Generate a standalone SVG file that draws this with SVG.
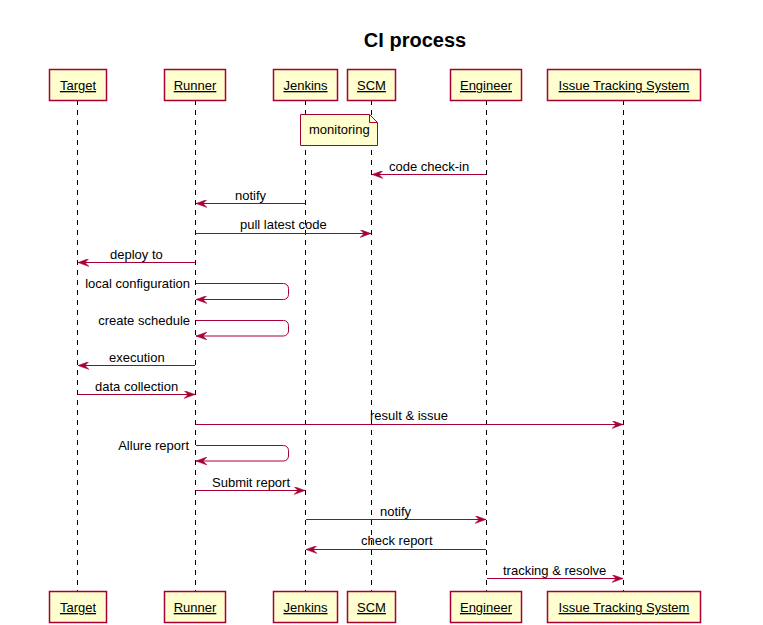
<svg xmlns="http://www.w3.org/2000/svg" width="763" height="625" viewBox="0 0 763 625">
<defs>
<style>
text{font-family:"Liberation Sans",Arial,sans-serif;font-size:13px;fill:#000}
.title{font-size:20px;font-weight:bold}
.p rect{fill:#FEFECE;stroke:#A80036;stroke-width:1.5}
.p text{text-decoration:underline;text-anchor:middle}
.life{stroke:#000;stroke-width:1;stroke-dasharray:5,5}
.msg{stroke:#A80036;stroke-width:1;fill:none}
.r{text-anchor:end}
</style>
<marker id="ah" viewBox="0 0 11 8" refX="11" refY="4" markerWidth="11" markerHeight="8" markerUnits="userSpaceOnUse" orient="auto">
<polygon points="0,0 11,4 0,8 4,4" fill="#A80036" stroke="#A80036" stroke-width="0.5"/>
</marker>
</defs>
<rect width="763" height="625" fill="#fff"/>
<text class="title" x="415" y="47" text-anchor="middle">CI process</text>
<g id="lifelines">
<line class="life" x1="77.5" y1="100" x2="77.5" y2="591"/>
<line class="life" x1="195.5" y1="100" x2="195.5" y2="591"/>
<line class="life" x1="305.5" y1="100" x2="305.5" y2="591"/>
<line class="life" x1="371.5" y1="100" x2="371.5" y2="591"/>
<line class="life" x1="486.5" y1="100" x2="486.5" y2="591"/>
<line class="life" x1="623.5" y1="100" x2="623.5" y2="591"/>
</g>
<g id="target" class="p">
<rect x="49.5" y="69.5" width="57" height="31"/><text x="78" y="90">Target</text>
<rect x="49.5" y="591.5" width="57" height="31"/><text x="78" y="612">Target</text>
</g>
<g id="runner" class="p">
<rect x="164.5" y="69.5" width="61" height="31"/><text x="195" y="90">Runner</text>
<rect x="164.5" y="591.5" width="61" height="31"/><text x="195" y="612">Runner</text>
</g>
<g id="jenkins" class="p">
<rect x="273.5" y="69.5" width="64" height="31"/><text x="305.5" y="90">Jenkins</text>
<rect x="273.5" y="591.5" width="64" height="31"/><text x="305.5" y="612">Jenkins</text>
</g>
<g id="scm" class="p">
<rect x="347.5" y="69.5" width="48" height="31"/><text x="371.5" y="90">SCM</text>
<rect x="347.5" y="591.5" width="48" height="31"/><text x="371.5" y="612">SCM</text>
</g>
<g id="engineer" class="p">
<rect x="450.5" y="69.5" width="71" height="31"/><text x="486" y="90">Engineer</text>
<rect x="450.5" y="591.5" width="71" height="31"/><text x="486" y="612">Engineer</text>
</g>
<g id="its" class="p">
<rect x="547.5" y="69.5" width="153" height="31"/><text x="624" y="90">Issue Tracking System</text>
<rect x="547.5" y="591.5" width="153" height="31"/><text x="624" y="612">Issue Tracking System</text>
</g>
<g id="note">
<path d="M300.5,114.5 H369.5 L377.5,122.5 V145.5 H300.5 Z" fill="#FEFECE" stroke="#A80036" stroke-width="1"/>
<path d="M369.5,114.5 V122.5 H377.5" fill="none" stroke="#A80036" stroke-width="1"/>
<text x="309" y="134">monitoring</text>
</g>
<g id="connectors">
<line class="msg" x1="486" y1="174.5" x2="372" y2="174.5" marker-end="url(#ah)"/>
<line class="msg" x1="305" y1="203.5" x2="196" y2="203.5" marker-end="url(#ah)"/>
<line class="msg" x1="196" y1="233.5" x2="371" y2="233.5" marker-end="url(#ah)"/>
<line class="msg" x1="195" y1="262.5" x2="78" y2="262.5" marker-end="url(#ah)"/>
<path class="msg" d="M196,283.5 H283.5 A5,5 0 0 1 288.5,288.5 V294.5 A5,5 0 0 1 283.5,299.5 H196" marker-end="url(#ah)"/>
<path class="msg" d="M196,320.5 H283.5 A5,5 0 0 1 288.5,325.5 V331 A5,5 0 0 1 283.5,336 H196" marker-end="url(#ah)"/>
<line class="msg" x1="195" y1="365.5" x2="78" y2="365.5" marker-end="url(#ah)"/>
<line class="msg" x1="78" y1="394.5" x2="195" y2="394.5" marker-end="url(#ah)"/>
<line class="msg" x1="196" y1="424.5" x2="623" y2="424.5" marker-end="url(#ah)"/>
<path class="msg" d="M196,445.5 H283.5 A5,5 0 0 1 288.5,450.5 V456 A5,5 0 0 1 283.5,461 H196" marker-end="url(#ah)"/>
<line class="msg" x1="196" y1="490.5" x2="305" y2="490.5" marker-end="url(#ah)"/>
<line class="msg" x1="306" y1="519.5" x2="486" y2="519.5" marker-end="url(#ah)"/>
<line class="msg" x1="486" y1="549.5" x2="306" y2="549.5" marker-end="url(#ah)"/>
<line class="msg" x1="487" y1="578.5" x2="623" y2="578.5" marker-end="url(#ah)"/>
</g>
<g id="labels">
<text x="389" y="171">code check-in</text>
<text x="235" y="200">notify</text>
<text x="240" y="229">pull latest code</text>
<text x="110" y="259">deploy to</text>
<text class="r" x="190" y="288">local configuration</text>
<text class="r" x="190" y="325">create schedule</text>
<text x="109" y="362">execution</text>
<text x="95" y="391">data collection</text>
<text x="370" y="420">result &amp; issue</text>
<text class="r" x="189" y="450">Allure report</text>
<text x="212" y="487">Submit report</text>
<text x="380" y="516">notify</text>
<text x="361" y="545">check report</text>
<text x="503" y="575">tracking &amp; resolve</text>
</g>
</svg>
